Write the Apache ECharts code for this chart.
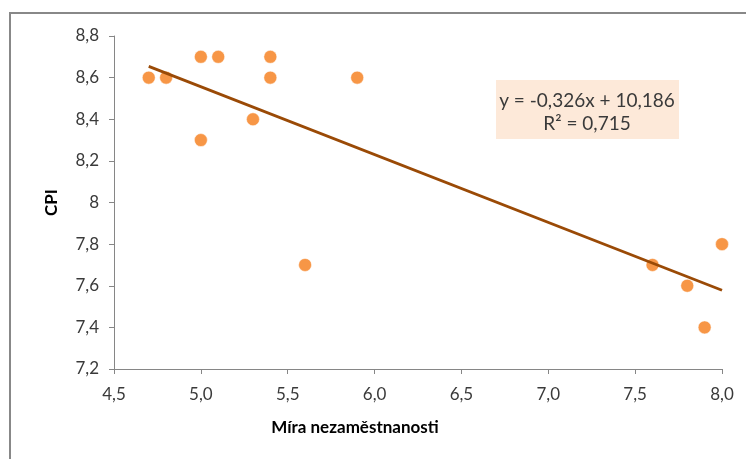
<!DOCTYPE html>
<html>
<head>
<meta charset="utf-8">
<script src="https://cdn.jsdelivr.net/npm/echarts@6/dist/echarts.min.js"></script>
<style>html,body{margin:0;padding:0;background:#fff}#c{width:746px;height:459px}</style>
</head>
<body>
<div id="c"></div>
<script>
var unemployment = [4.7, 4.8, 5.0, 5.1, 5.4, 5.4, 5.0, 5.3, 5.6, 5.9, 7.6, 7.8, 7.9, 8.0];
var cpi          = [8.6, 8.6, 8.7, 8.7, 8.7, 8.6, 8.3, 8.4, 7.7, 8.6, 7.7, 7.6, 7.4, 7.8];
var trendX = [4.7, 8.0];
var trendY = [8.654, 7.578];
var equationLines = ['y = -0,326x + 10,186', 'R² = 0,715'];
var xAxisTitle = 'Míra nezaměstnanosti';
var yAxisTitle = 'CPI';

var pts = unemployment.map(function (x, i) { return [x, cpi[i]]; });
var trend = trendX.map(function (x, i) { return [x, trendY[i]]; });
var FONT = 'Lato, "Noto Sans", sans-serif';

var chart = echarts.init(document.getElementById('c'));
chart.setOption({
  animation: false,
  backgroundColor: '#fff',
  grid: { left: 114, right: 24, top: 36, bottom: 90 },
  xAxis: {
    type: 'value', min: 4.5, max: 8, interval: 0.5,
    axisLine: { lineStyle: { color: '#868686', width: 1 } },
    axisTick: { show: true, length: 5, lineStyle: { color: '#868686' } },
    axisLabel: { fontFamily: FONT, fontSize: 17, color: '#3a3a3a', margin: 17,
      formatter: function (v) { return v.toFixed(1).replace('.', ','); } },
    splitLine: { show: false }
  },
  yAxis: {
    type: 'value', min: 7.2, max: 8.8, interval: 0.2,
    name: yAxisTitle, nameLocation: 'middle', nameGap: 54,
    nameTextStyle: { fontFamily: FONT, fontWeight: 'bold', fontSize: 17, color: '#000' },
    axisLine: { show: true, lineStyle: { color: '#868686', width: 1 } },
    axisTick: { show: true, length: 5, lineStyle: { color: '#868686' } },
    axisLabel: { fontFamily: FONT, fontSize: 17, color: '#3a3a3a', margin: 15,
      formatter: function (v) { return String(Math.round(v * 10) / 10).replace('.', ','); } },
    splitLine: { show: false }
  },
  series: [
    {
      type: 'line', data: trend, symbol: 'none', z: 3,
      lineStyle: { color: '#9a4a06', width: 2.75 }
    },
    {
      type: 'scatter', data: pts, symbolSize: 13, z: 2,
      itemStyle: { color: '#f79646', borderColor: '#fff', borderWidth: 0.5, opacity: 1 }
    }
  ],
  graphic: [
    { type: 'rect', shape: { x: 10, y: 13, width: 760, height: 470 },
      style: { fill: 'none', stroke: '#888888', lineWidth: 2 }, z: -1 },
    { type: 'text', x: 355, y: 428, z: 6,
      style: { text: xAxisTitle, fill: '#000', font: 'bold 17px ' + FONT, align: 'center', verticalAlign: 'middle' } },
    { type: 'rect', shape: { x: 496, y: 80, width: 183, height: 59 },
      style: { fill: '#fde9d9' }, z: 5 },
    { type: 'text', x: 587, y: 101, z: 6,
      style: { text: equationLines[0], fill: '#3a3a3a', font: '19px ' + FONT, align: 'center', verticalAlign: 'middle' } },
    { type: 'text', x: 587, y: 124, z: 6,
      style: { text: equationLines[1], fill: '#3a3a3a', font: '19px ' + FONT, align: 'center', verticalAlign: 'middle' } }
  ]
});
</script>
</body>
</html>
